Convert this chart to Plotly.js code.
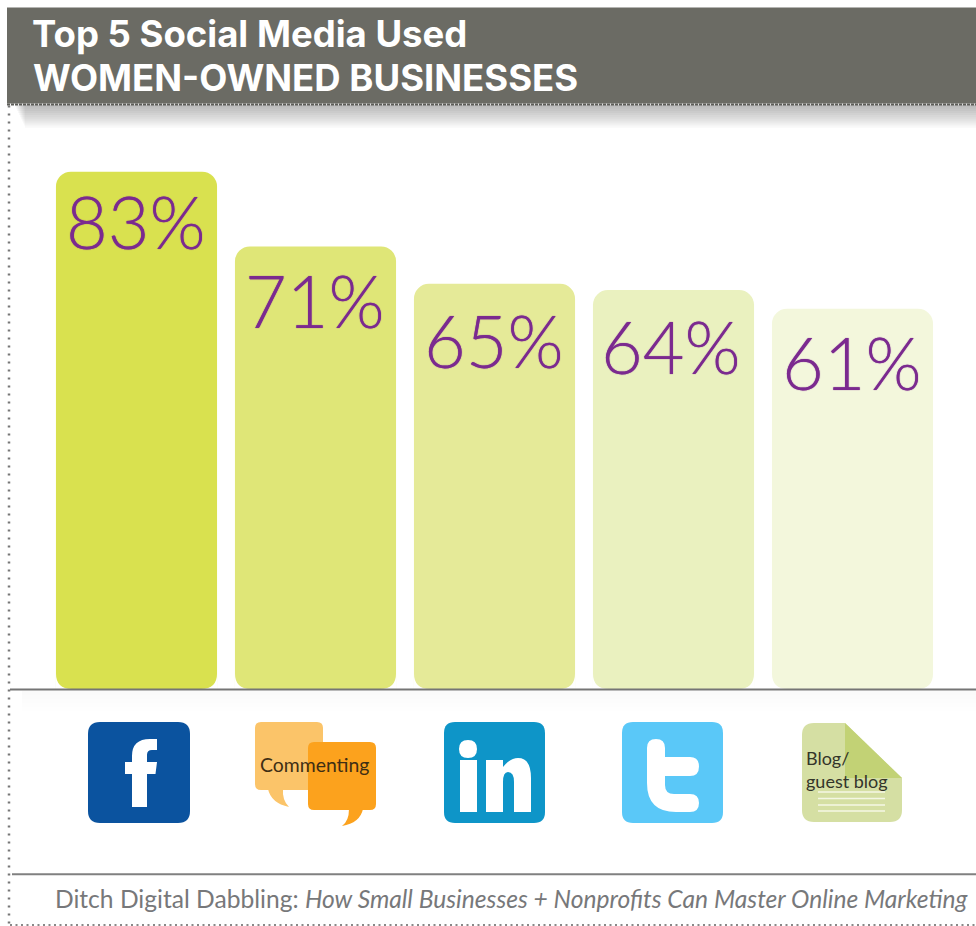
<!DOCTYPE html>
<html>
<head>
<meta charset="utf-8">
<script src="https://cdn.plot.ly/plotly-3.0.1.min.js"></script>
<style>html,body{margin:0;padding:0;background:#fff;overflow:hidden}#chart{width:976px;height:926px}</style>
</head>
<body>
<div id="chart"></div>
<script>
const categories = ["Facebook", "Commenting", "LinkedIn", "Twitter", "Blog/guest blog"];
const shareValues = [83, 71, 65, 64, 61];
const barColors = ["#d9e14f", "#dfe677", "#e5ea98", "#eaf1bf", "#f3f7dc"];
const labelShift = [[-1, -4], [-1, -9], [-1, -11], [-3, -11], [-1, -8]];

const W = 976, H = 926;
const plotLeft = 47, plotWidth = 895, baseY = 689, yMax = 90, unit = 6.229;
const plotHeight = yMax * unit, plotTop = baseY - plotHeight;

// canvas pixels to paper fractions, for the page furniture around the plot
const px = v => ((v - plotLeft) / plotWidth).toFixed(5);
const py = v => ((baseY - v) / plotHeight).toFixed(5);
const path = s => s.replace(/(-?[\d.]+),(-?[\d.]+)/g, (m, a, b) => px(+a) + ',' + py(+b));

function art(d, fill, layer) {
  return {type: 'path', xref: 'paper', yref: 'paper', path: path(d), fillcolor: fill,
          line: {width: 0}, layer: layer || 'above'};
}
function rule(x0, y0, x1, y1, color, width, dash) {
  return {type: 'line', xref: 'paper', yref: 'paper', x0: px(x0), x1: px(x1), y0: py(y0), y1: py(y1),
          line: {color: color, width: width, dash: dash || 'solid'}, layer: 'above'};
}
function box(x0, y0, x1, y1, fill, layer) {
  return {type: 'rect', xref: 'paper', yref: 'paper', x0: px(x0), x1: px(x1), y0: py(y0), y1: py(y1),
          fillcolor: fill, line: {width: 0}, layer: layer || 'above'};
}
function rounded(x0, y0, x1, y1, r) {
  return `M${x0 + r},${y0} L${x1 - r},${y0} Q${x1},${y0} ${x1},${y0 + r} L${x1},${y1 - r} Q${x1},${y1} ${x1 - r},${y1} ` +
         `L${x0 + r},${y1} Q${x0},${y1} ${x0},${y1 - r} L${x0},${y0 + r} Q${x0},${y0} ${x0 + r},${y0} Z`;
}

const shapes = [];

// soft shadows under the header band and the baseline
for (let k = 1; k <= 11; k++) shapes.push(box(14 + k, 105, W, 105 + k * 2.1, 'rgba(60,60,55,0.035)', 'below'));
for (let k = 1; k <= 5; k++) shapes.push(box(22, 691, W, 691 + k * 4, 'rgba(90,90,90,0.009)', 'below'));

// header band
shapes.push(box(7, 8, W, 104, '#6b6b64', 'below'));
shapes.push(rule(7, 105, W, 105, '#5d5d58', 2, '3px,1px'));

// page rules
shapes.push(rule(9, 106, 9, 926, '#777777', 2.5, '2px,6px'));
shapes.push(rule(10, 925, W, 925, '#888888', 2.5, '2px,3.5px'));
shapes.push(rule(12, 874, W, 874, '#808080', 2));

// bars have rounded feet: cut the two lower corners of each one
const footR = 16, halfBar = 0.45;
categories.forEach((c, i) => {
  const rx = footR / 179, ry = footR / unit;
  [[i - halfBar, 1], [i + halfBar, -1]].forEach(([edge, dir]) => {
    const a = edge, b = edge + dir * rx;
    shapes.push({type: 'path', xref: 'x', yref: 'y', layer: 'above', fillcolor: '#ffffff', line: {width: 0},
      path: `M${a},0 L${b},0 Q${a},0 ${a},${ry} Z`});
  });
});
shapes.push(rule(10, 689.5, W, 689.5, '#757575', 2));

// Facebook icon
shapes.push(art(rounded(88, 722, 190, 823, 12), '#0b539f'));
shapes.push(art('M132,807 L147,807 L147,774 L155.5,774 L157,762 L147,762 L147,755 Q147,750 152,750 L157,750 L157,739 L150,739 Q132,739 132,756 L132,762 L125,762 L125,774 L132,774 Z', '#ffffff'));

// speech bubbles
shapes.push(art(rounded(255, 722, 323, 790, 6), '#fbc469'));
shapes.push(art('M268,789 Q271,803 289,807 Q282,800 283,789 Z', '#fbc469'));
shapes.push(art(rounded(308, 742, 376, 810, 6), '#fca21d'));
shapes.push(art('M349,809 Q349,821 342,826 Q360,823 363,809 Z', '#fca21d'));

// LinkedIn icon
shapes.push(art(rounded(444, 722, 545, 823, 11), '#0e95c8'));
shapes.push(art('M460,760 L477,760 L477,812 L460,812 Z', '#ffffff'));
shapes.push(art('M459,749 Q459,740 468,740 Q477,740 477,749 Q477,758 468,758 Q459,758 459,749 Z', '#ffffff'));
shapes.push(art('M486,812 L486,760 L503,760 L503,767 Q510,758 518,758 Q531,758 531,778 L531,812 L514,812 L514,782 Q514,772 508,772 Q503,772 503,782 L503,812 Z', '#ffffff'));

// Twitter icon
shapes.push(art(rounded(622, 722, 723, 823, 11), '#5ac8f8'));
shapes.push(art('M647,748 Q647,739 656,739 Q665,739 665,748 L665,757 L690,757 Q699,757 699,766.5 Q699,776 690,776 L665,776 L665,785 Q665,794 674,794 L690,794 Q699,794 699,803 Q699,812 690,812 L676,812 Q647,812 647,783 Z', '#ffffff'));

// Blog page with folded corner
shapes.push(art('M814,723 L845,723 L902,778 L902,810 Q902,822 890,822 L814,822 Q802,822 802,810 L802,735 Q802,723 814,723 Z', '#d5dfa3'));
shapes.push(art('M845,723 L902,778 L845,778 Z', '#c2d275'));
[792, 798.5, 805, 811].forEach(y => shapes.push(rule(818, y, 885, y, '#f4f7e4', 1.5)));

// value labels hang from the top of each bar
const annotations = categories.map((c, i) => ({
  x: c, y: shareValues[i], xref: 'x', yref: 'y', yanchor: 'top', xanchor: 'center',
  xshift: labelShift[i][0], yshift: labelShift[i][1], showarrow: false,
  text: shareValues[i] + '%',
  font: {family: 'Lato, sans-serif', size: 72, color: '#7b2a8f', weight: 300, shadow: '0 0 1px #7b2a8f'}
}));

const textFont = 'Lato, sans-serif', headFont = 'Inter, sans-serif';
annotations.push(
  {xref: 'paper', yref: 'paper', x: px(31), y: py(78), xanchor: 'left', yanchor: 'middle', showarrow: false,
   text: 'WOMEN-OWNED BUSINESSES', font: {family: headFont, size: 36.5, color: '#ffffff', weight: 700}},
  {xref: 'paper', yref: 'paper', x: px(315), y: py(764), xanchor: 'center', yanchor: 'middle', showarrow: false,
   text: 'Commenting', font: {family: textFont, size: 19.4, color: '#3f2e14'}},
  {xref: 'paper', yref: 'paper', x: px(804), y: py(758), xanchor: 'left', yanchor: 'middle', showarrow: false,
   text: 'Blog/', font: {family: textFont, size: 18, color: '#33352a'}},
  {xref: 'paper', yref: 'paper', x: px(804), y: py(781), xanchor: 'left', yanchor: 'middle', showarrow: false,
   text: 'guest blog', font: {family: textFont, size: 18, color: '#33352a'}},
  {xref: 'paper', yref: 'paper', x: px(53), y: py(898), xanchor: 'left', yanchor: 'middle', showarrow: false,
   text: 'Ditch Digital Dabbling: <i>How Small Businesses + Nonprofits Can Master Online Marketing</i>',
   font: {family: textFont, size: 24.6, color: '#77787a'}}
);

const trace = {
  type: 'bar', x: categories, y: shareValues,
  marker: {color: barColors, line: {width: 0}},
  hovertemplate: '%{x}: %{y}%<extra></extra>'
};

const layout = {
  width: W, height: H, autosize: false, showlegend: false,
  paper_bgcolor: '#ffffff', plot_bgcolor: 'rgba(0,0,0,0)',
  margin: {l: plotLeft, r: W - plotLeft - plotWidth, t: plotTop, b: H - baseY, pad: 0},
  bargap: 0.1, barcornerradius: 15,
  title: {
    text: 'Top 5 Social Media Used',
    x: 32 / W, xref: 'container', xanchor: 'left',
    y: 1 - 21.5 / H, yref: 'container', yanchor: 'top',
    font: {family: headFont, size: 36.5, color: '#ffffff', weight: 700}
  },
  xaxis: {type: 'category', categoryarray: categories, range: [-0.5, 4.5], visible: false, fixedrange: true},
  yaxis: {range: [0, yMax], visible: false, fixedrange: true},
  shapes: shapes, annotations: annotations
};

Plotly.newPlot('chart', [trace], layout, {displayModeBar: false, responsive: false});
</script>
</body>
</html>
